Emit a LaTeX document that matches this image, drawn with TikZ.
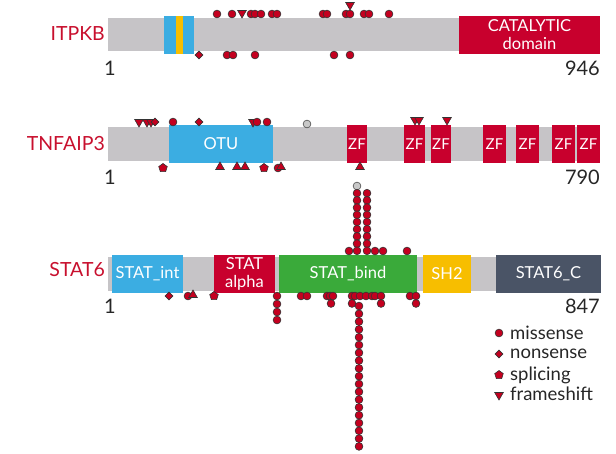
\documentclass[tikz,border=0pt]{standalone}
\usepackage{fontspec}
\setmainfont{Lato}
\usetikzlibrary{shapes.geometric}
\definecolor{mred}{HTML}{C4001F}
\definecolor{dred}{HTML}{C8002D}
\definecolor{lred}{HTML}{C8102E}
\definecolor{dblue}{HTML}{3BADE2}
\definecolor{dyel}{HTML}{F7BE00}
\definecolor{dgreen}{HTML}{3AAA3A}
\definecolor{dslate}{HTML}{4A5466}
\definecolor{gbar}{HTML}{C6C4C7}
\definecolor{gmut}{HTML}{C8C8C8}
\tikzset{
  bar/.style={fill=gbar, draw=none},
  dom/.style={draw=none, text=white, inner sep=0pt, align=center, font=\fontsize{16.5}{19}\selectfont, minimum height=38pt},
  gene/.style={text=lred, anchor=east, inner sep=0pt, font=\fontsize{19.5}{22}\selectfont},
  num/.style={text=black!85, inner sep=0pt, font=\fontsize{20}{22}\selectfont},
  mk/.style={draw=black!80, line width=0.6pt, fill=mred, inner sep=0pt},
  mis/.style={mk, circle, minimum size=7.8pt},
  gmis/.style={mis, fill=gmut, draw=black!70},
  non/.style={mk, diamond, minimum size=8pt},
  spl/.style={mk, regular polygon, regular polygon sides=5, minimum size=9pt},
  fsd/.style={mk, regular polygon, regular polygon sides=3, shape border rotate=180, minimum size=10pt},
  fsu/.style={mk, regular polygon, regular polygon sides=3, minimum size=10pt},
  legtext/.style={anchor=west, inner sep=0pt, text=black!85, font=\fontsize{18.5}{20}\selectfont}
}
\begin{document}
\begin{tikzpicture}[x=1pt,y=-1pt]
\useasboundingbox (0,0) rectangle (616,453);
% ===== ITPKB =====
\node[gene] (gITPKB) at (105,34) {ITPKB};
\fill[bar] (108,18) rectangle (600,51);
\node[dom, fill=dblue, minimum width=30pt] (i1) at (179,34.5) {};
\node[dom, fill=dyel, minimum width=7pt] (i2) at (179.5,34.5) {};
\node[dom, fill=dred, minimum width=141pt] (icat) at (529.5,34.5) {CATALYTIC\\[-1pt]domain};
\node[num] (i1n) at (110,68) {1};
\node[num, anchor=east] (iend) at (600,68) {946};
\foreach \x [count=\i] in {217,232,251,255,261,272,277,323,327,346,350,364,369,389}
  \node[mis] (it\i) at (\x,14) {};
\node[fsd] (itf1) at (242,13) {};
\node[fsd] (itf2) at (350,5) {};
\node[non] (ibn) at (199,55) {};
\foreach \x [count=\i] in {227,233,255,334,350}
  \node[mis] (ib\i) at (\x,55) {};
% ===== TNFAIP3 =====
\node[gene] (gTNF) at (105,144) {TNFAIP3};
\fill[bar] (108,127) rectangle (600,161);
\node[dom, fill=dblue, minimum width=104pt] (otu) at (221,144) {OTU};
\foreach \a/\b [count=\i] in {347/367,404/425,431/451,483/506,516/539,552/575,577/600}
  \node[dom, fill=dred, minimum width={\b-\a}, font=\fontsize{15}{17}\selectfont] (zf\i) at ({(\a+\b)/2},144) {ZF};
\node[num] (t1n) at (110,177) {1};
\node[num, anchor=east] (tend) at (600,177) {790};
\foreach \x [count=\i] in {139,147,151}
  \node[fsd] (ttf\i) at (\x,122) {};
\node[non] (ttn1) at (155,122) {};
\node[mis] (ttm1) at (173,122) {};
\node[non] (ttn2) at (199,122) {};
\node[fsd] (ttf4) at (253,122) {};
\node[mis] (ttm2) at (257,122) {};
\node[mis] (ttm3) at (267,122) {};
\node[gmis] (ttg) at (307,124) {};
\node[fsd] (tzf1) at (415,120) {};
\node[fsd] (tzf2) at (419,120) {};
\node[fsd] (tzf3) at (447,120) {};
\node[spl] (tbs1) at (163,168) {};
\foreach \x [count=\i] in {220,237,245}
  \node[fsu] (tbf\i) at (\x,167) {};
\node[spl] (tbs2) at (264,168) {};
\node[mis] (tbm1) at (278,168) {};
\node[fsu] (tbf4) at (281,167) {};
\node[fsu] (tbf5) at (360,167) {};
% ===== STAT6 =====
\node[gene] (gSTAT) at (105,270) {STAT6};
\fill[bar] (108,257) rectangle (600,291);
\node[dom, fill=dblue, minimum width=71pt] (sint) at (147.5,274) {STAT\_int};
\node[dom, fill=dred, minimum width=61pt] (salpha) at (244.5,274) {STAT\\[-1pt]alpha};
\node[dom, fill=dgreen, minimum width=138pt] (sbind) at (348,274) {STAT\_bind};
\node[dom, fill=dyel, minimum width=48pt] (ssh2) at (447,274) {SH2};
\node[dom, fill=dslate, minimum width=105pt] (sc) at (548.5,274) {STAT6\_C};
\node[num] (s1n) at (110,306) {1};
\node[num, anchor=east] (send) at (600,306) {847};
% top stacks
\node[gmis] (sg) at (357,186) {};
\foreach \k in {1,...,9} {
  \node[mis] (sa\k) at (357,{186+7.2*\k}) {};
  \node[mis] (sb\k) at (367,{186+7.2*\k}) {};
}
\foreach \x [count=\i] in {349,375,383,407}
  \node[mis] (st\i) at (\x,251) {};
% bottom
\node[non] (sbn) at (169,296) {};
\node[mis] (sbm0) at (188,296) {};
\node[fsu] (sbf) at (193,295) {};
\node[spl] (sbs) at (214,296) {};
\foreach \k in {0,...,3}
  \node[mis] (sc\k) at (277,{296+8*\k}) {};
\foreach \x [count=\i] in {301,307,327,330,333,352,355,360,366,372,375,381,410,416}
  \node[mis] (sr\i) at (\x,296) {};
\foreach \x [count=\i] in {331,352,381,416}
  \node[mis] (sq\i) at (\x,303.5) {};
\foreach \k in {0,...,18}
  \node[mis] (sl\k) at (359,{306+7.8*\k}) {};
% ===== legend =====
\node[mis] (lm) at (499,333) {};
\node[legtext] (lmt) at (510,333) {missense};
\node[non] (ln) at (499,354) {};
\node[legtext] (lnt) at (510,354) {nonsense};
\node[spl] (ls) at (499,375) {};
\node[legtext] (lst) at (510,375) {splicing};
\node[fsd] (lf) at (499,395) {};
\node[legtext] (lft) at (510,394) {frameshift};
\end{tikzpicture}
\end{document}
